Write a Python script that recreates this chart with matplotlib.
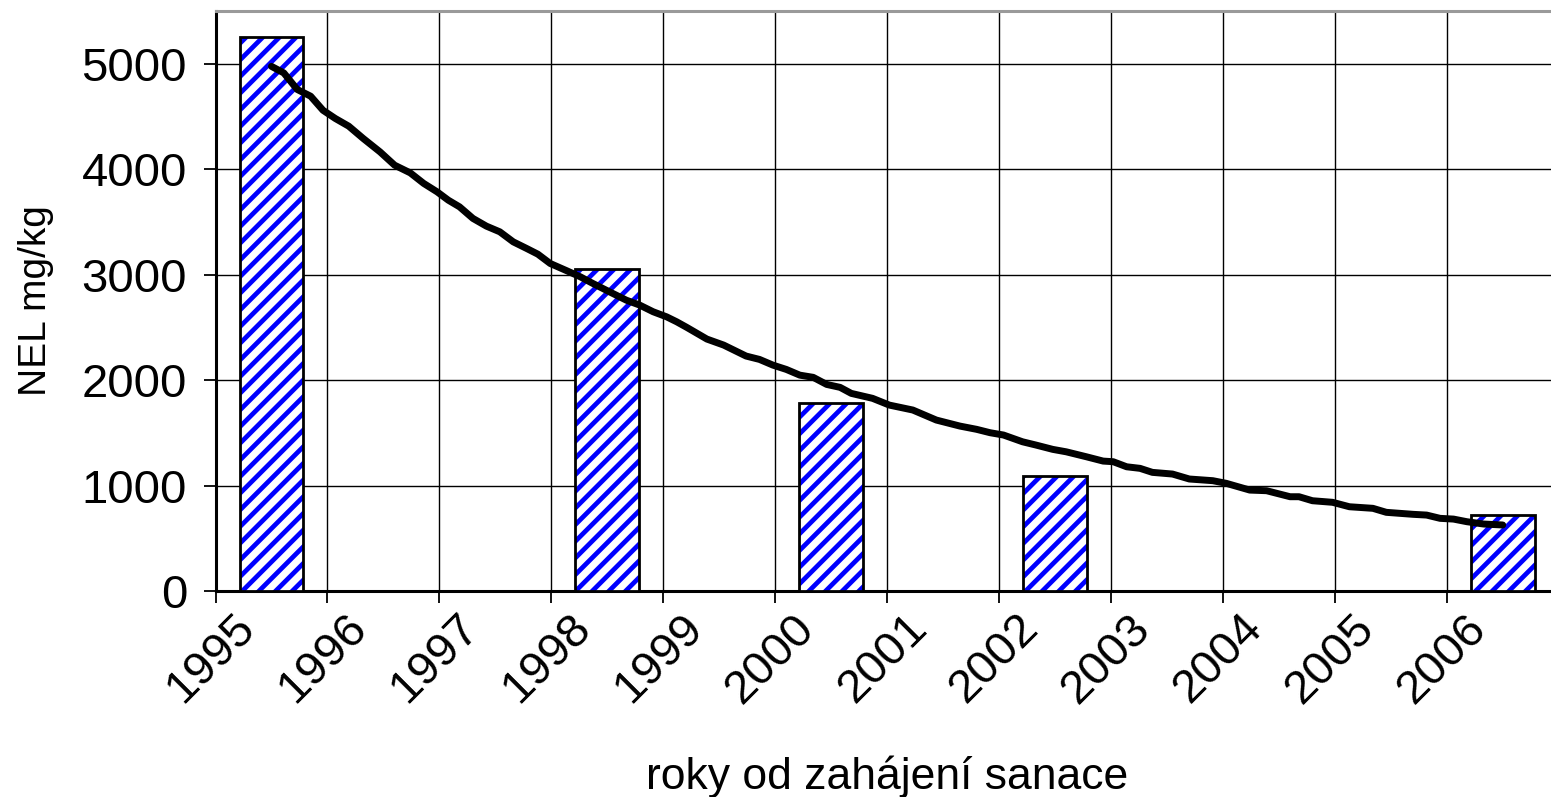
import matplotlib
matplotlib.use("Agg")
import matplotlib.pyplot as plt
import matplotlib.transforms as mtransforms

plt.rcParams['font.family'] = ['Liberation Sans', 'DejaVu Sans']

# ---- data ----
years = ["1995", "1996", "1997", "1998", "1999", "2000",
         "2001", "2002", "2003", "2004", "2005", "2006"]
bar_years = ["1995", "1998", "2000", "2002", "2006"]
bar_values = [5250, 3050, 1785, 1095, 720]

# trend line: time in years from mid-1995, NEL mg/kg
line_t = [0.00, 0.11, 0.23, 0.35, 0.46, 0.57, 0.69, 0.82, 0.97, 1.10,
          1.24, 1.36, 1.48, 1.58, 1.68, 1.80, 1.92, 2.04, 2.16, 2.28,
          2.38, 2.49, 2.64, 2.76, 2.87, 3.02, 3.17, 3.29, 3.41, 3.53,
          3.62, 3.71, 3.89, 4.04, 4.24, 4.36, 4.48, 4.60, 4.72, 4.84,
          4.96, 5.08, 5.18, 5.37, 5.52, 5.73, 5.94, 6.15, 6.30, 6.42,
          6.54, 6.71, 6.83, 6.98, 7.10, 7.28, 7.43, 7.52, 7.64, 7.76,
          7.87, 8.05, 8.20, 8.41, 8.53, 8.74, 8.89, 9.10, 9.18, 9.30,
          9.48, 9.63, 9.84, 9.96, 10.20, 10.32, 10.44, 10.56, 10.68, 10.83,
          11.00]
line_v = [4975, 4913, 4756, 4692, 4559, 4481, 4408, 4291, 4164, 4038,
          3965, 3865, 3785, 3706, 3643, 3533, 3460, 3406, 3311, 3248,
          3194, 3106, 3036, 2979, 2917, 2837, 2758, 2711, 2648, 2600,
          2553, 2500, 2389, 2332, 2228, 2196, 2142, 2101, 2047, 2026,
          1959, 1931, 1874, 1827, 1763, 1716, 1621, 1564, 1533, 1501,
          1479, 1415, 1384, 1343, 1320, 1273, 1232, 1226, 1178, 1163,
          1125, 1109, 1062, 1046, 1021, 957, 951, 894, 894, 856,
          841, 799, 784, 746, 727, 720, 689, 682, 657, 635,
          626]

y_ticks = [0, 1000, 2000, 3000, 4000, 5000]
xlabel = "roky od zahájení sanace"
ylabel = "NEL mg/kg"

# ---- figure ----
W, H, DPI = 1551, 797, 100
fig = plt.figure(figsize=(W / DPI, H / DPI), dpi=DPI)
ax = fig.add_axes([215.5 / W, (797 - 591) / H, 1343.2 / W, 580 / H])

plt.rcParams['hatch.linewidth'] = 3.4
xpos = [years.index(y) for y in bar_years]
ax.bar(xpos, bar_values, width=0.57, facecolor='white', edgecolor='#0000ff',
       hatch='//', linewidth=0, zorder=3)
ax.bar(xpos, bar_values, width=0.57, fill=False, edgecolor='black',
       linewidth=2.0, zorder=4)

ax.plot(line_t, line_v, color='black', linewidth=5.0, solid_capstyle='round',
        solid_joinstyle='round', zorder=5)

ax.set_xlim(-0.5, len(years) - 0.5)
ax.set_ylim(0, 5500)

# grid & ticks
ax.set_yticks(y_ticks)
ax.set_yticklabels([str(v) for v in y_ticks], fontsize=34)
ax.set_xticks([i - 0.5 for i in range(len(years) + 1)])
ax.set_xticklabels([])
ax.set_xticks(range(len(years)), minor=True)
ax.set_xticklabels(years, minor=True, fontsize=34, rotation=45,
                   ha='right', va='center', rotation_mode='anchor')
ax.tick_params(axis='x', which='minor', length=0, pad=22)
ax.tick_params(axis='both', which='major', direction='out', length=8.5,
               width=1.3, color='black')
ax.tick_params(axis='y', pad=12)
offset = mtransforms.ScaledTranslation(-0.23, 0, fig.dpi_scale_trans)
for lab in ax.xaxis.get_minorticklabels():
    lab.set_transform(lab.get_transform() + offset)

ax.grid(True, which='major', color='black', linewidth=1.0, zorder=0)
ax.set_axisbelow(True)

for s in ['left', 'bottom']:
    ax.spines[s].set_color('black')
    ax.spines[s].set_linewidth(2.2)
ax.spines['top'].set_color('#9a9a9a')
ax.spines['top'].set_linewidth(2.2)
ax.spines['right'].set_visible(False)

ax.set_xlabel(xlabel, fontsize=32)
ax.xaxis.set_label_coords(0.5, -0.357)
ax.xaxis.label.set_va('bottom')
ax.set_ylabel(ylabel, fontsize=28)
ax.yaxis.set_label_coords(-0.12, 0.5)

fig.savefig("out.png", dpi=DPI)
